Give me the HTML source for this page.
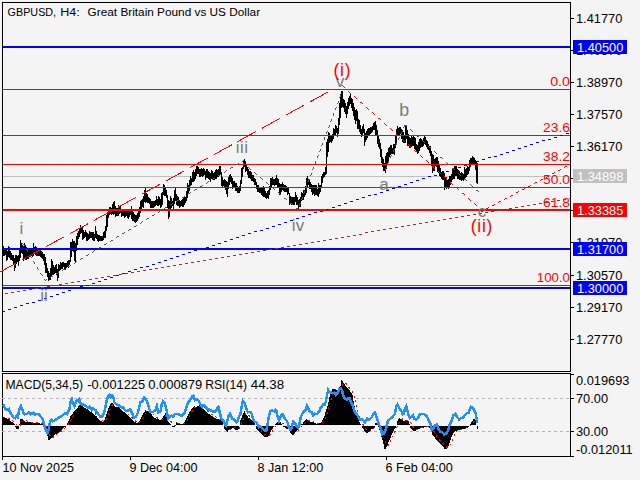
<!DOCTYPE html><html><head><meta charset="utf-8"><style>
html,body{margin:0;padding:0;background:#f4f4f4;width:640px;height:480px;overflow:hidden}
svg{position:absolute;left:0;top:0}
text{font-family:'Liberation Sans', sans-serif}
</style></head><body>
<svg width="640" height="480" viewBox="0 0 640 480">
<g shape-rendering="crispEdges" stroke="#000" stroke-width="1" fill="none">
<path d="M2.5 2.5H570.5V371.5H2.5Z"/>
<path d="M2.5 373.5H570.5V456.5H2.5Z"/>
<path d="M570 18.5H574"/>
<path d="M570 50.5H574"/>
<path d="M570 82.5H574"/>
<path d="M570 114.5H574"/>
<path d="M570 146.5H574"/>
<path d="M570 178.5H574"/>
<path d="M570 210.5H574"/>
<path d="M570 242.5H574"/>
<path d="M570 275.5H574"/>
<path d="M570 307.5H574"/>
<path d="M570 339.5H574"/>
<path d="M570 374.5H574"/>
<path d="M570 398.5H574"/>
<path d="M570 431.5H574"/>
<path d="M570 456.5H574"/>
<path d="M2.5 456V460"/>
<path d="M130.5 456V460"/>
<path d="M258.5 456V460"/>
<path d="M386.5 456V460"/>
</g>
<rect x="3" y="176" width="567" height="1" fill="#c0c0c0" shape-rendering="crispEdges"/>
<path fill="none" stroke="#000" stroke-width="1" shape-rendering="crispEdges" d="M3.5 246V256M4.5 249V256M5.5 250V255M6.5 250V261M7.5 251V260M8.5 246V257M9.5 247V258M10.5 251V260M11.5 253V260M12.5 255V261M13.5 255V264M14.5 258V271M15.5 255V268M16.5 255V264M17.5 256V262M18.5 255V266M19.5 249V261M20.5 240V258M21.5 243V253M22.5 245V254M23.5 246V261M24.5 243V258M25.5 245V260M26.5 247V260M27.5 251V259M28.5 249V259M29.5 250V257M30.5 250V256M31.5 248V256M32.5 250V257M33.5 243V256M34.5 247V254M35.5 246V255M36.5 247V256M37.5 249V256M38.5 249V256M39.5 249V256M40.5 250V257M41.5 251V258M42.5 252V259M43.5 254V261M44.5 254V265M45.5 257V273M46.5 263V273M47.5 268V277M48.5 271V281M49.5 273V280M50.5 268V280M51.5 259V276M52.5 261V275M53.5 265V275M54.5 267V274M55.5 265V273M56.5 264V275M57.5 269V281M58.5 264V278M59.5 265V271M60.5 262V270M61.5 263V269M62.5 262V269M63.5 262V267M64.5 263V270M65.5 263V270M66.5 263V268M67.5 261V267M68.5 260V268M69.5 260V265M70.5 242V262M71.5 242V257M72.5 239V251M73.5 241V252M74.5 241V261M75.5 243V262M76.5 236V251M77.5 233V245M78.5 231V239M79.5 229V237M80.5 225V234M81.5 227V233M82.5 227V240M83.5 230V239M84.5 232V238M85.5 230V237M86.5 232V241M87.5 233V241M88.5 234V240M89.5 231V239M90.5 232V238M91.5 232V238M92.5 232V240M93.5 232V241M94.5 234V241M95.5 226V238M96.5 231V239M97.5 234V241M98.5 235V242M99.5 235V241M100.5 236V241M101.5 236V241M102.5 236V241M103.5 232V240M104.5 231V238M105.5 226V238M106.5 215V231M107.5 213V227M108.5 209V218M109.5 207V215M110.5 207V214M111.5 208V215M112.5 204V214M113.5 202V215M114.5 201V214M115.5 206V217M116.5 208V216M117.5 208V216M118.5 205V216M119.5 206V214M120.5 206V213M121.5 209V217M122.5 209V216M123.5 211V216M124.5 209V218M125.5 211V217M126.5 211V216M127.5 210V218M128.5 210V219M129.5 210V217M130.5 210V215M131.5 206V219M132.5 209V221M133.5 212V221M134.5 214V222M135.5 215V223M136.5 215V222M137.5 213V221M138.5 209V219M139.5 207V217M140.5 201V213M141.5 200V210M142.5 199V207M143.5 196V208M144.5 190V202M145.5 188V203M146.5 193V202M147.5 194V203M148.5 197V203M149.5 198V204M150.5 199V208M151.5 201V208M152.5 201V208M153.5 201V208M154.5 201V207M155.5 200V206M156.5 196V205M157.5 199V206M158.5 196V206M159.5 197V205M160.5 199V208M161.5 193V207M162.5 192V205M163.5 184V195M164.5 185V196M165.5 188V196M166.5 190V198M167.5 195V208M168.5 200V219M169.5 201V217M170.5 196V211M171.5 198V208M172.5 201V206M173.5 198V209M174.5 190V204M175.5 187V201M176.5 194V205M177.5 196V206M178.5 197V206M179.5 200V208M180.5 201V207M181.5 200V206M182.5 199V207M183.5 198V207M184.5 197V205M185.5 197V203M186.5 191V201M187.5 183V198M188.5 185V193M189.5 180V191M190.5 176V186M191.5 178V185M192.5 172V182M193.5 170V182M194.5 172V181M195.5 169V179M196.5 166V176M197.5 166V174M198.5 167V174M199.5 169V177M200.5 169V177M201.5 168V176M202.5 169V177M203.5 168V176M204.5 169V175M205.5 171V180M206.5 169V178M207.5 169V178M208.5 171V179M209.5 172V180M210.5 173V182M211.5 170V179M212.5 171V180M213.5 173V180M214.5 172V180M215.5 170V179M216.5 169V179M217.5 170V177M218.5 169V177M219.5 166V175M220.5 166V175M221.5 172V186M222.5 177V187M223.5 180V186M224.5 179V187M225.5 180V190M226.5 181V194M227.5 182V197M228.5 177V189M229.5 175V185M230.5 174V182M231.5 176V184M232.5 178V189M233.5 181V187M234.5 181V188M235.5 183V191M236.5 183V191M237.5 186V193M238.5 187V193M239.5 186V193M240.5 180V191M241.5 168V184M242.5 167V177M243.5 160V169M244.5 159V167M245.5 161V172M246.5 164V171M247.5 167V175M248.5 169V178M249.5 171V178M250.5 171V179M251.5 172V181M252.5 175V181M253.5 175V182M254.5 178V185M255.5 179V185M256.5 182V189M257.5 185V192M258.5 185V192M259.5 187V193M260.5 187V193M261.5 187V195M262.5 187V196M263.5 186V197M264.5 187V197M265.5 191V198M266.5 193V199M267.5 191V198M268.5 190V199M269.5 186V195M270.5 178V190M271.5 178V188M272.5 177V185M273.5 179V185M274.5 179V186M275.5 178V185M276.5 175V185M277.5 178V187M278.5 179V187M279.5 183V195M280.5 184V194M281.5 184V192M282.5 182V190M283.5 184V191M284.5 185V192M285.5 185V192M286.5 186V192M287.5 188V195M288.5 188V194M289.5 193V205M290.5 196V204M291.5 197V205M292.5 197V204M293.5 197V205M294.5 197V205M295.5 192V202M296.5 195V205M297.5 197V205M298.5 200V211M299.5 199V207M300.5 197V207M301.5 192V201M302.5 193V200M303.5 190V200M304.5 190V197M305.5 186V195M306.5 178V193M307.5 176V187M308.5 179V185M309.5 179V189M310.5 182V189M311.5 184V192M312.5 185V195M313.5 185V194M314.5 185V196M315.5 185V195M316.5 185V195M317.5 189V196M318.5 183V197M319.5 185V194M320.5 185V192M321.5 176V188M322.5 174V183M323.5 172V178M324.5 172V177M325.5 167V175M326.5 142V174M327.5 139V157M328.5 132V152M329.5 133V143M330.5 135V142M331.5 135V143M332.5 134V141M333.5 128V139M334.5 129V136M335.5 125V136M336.5 126V133M337.5 128V137M338.5 118V134M339.5 103V125M340.5 94V118M341.5 91V108M342.5 91V107M343.5 99V108M344.5 100V112M345.5 103V114M346.5 106V118M347.5 102V114M348.5 98V109M349.5 96V106M350.5 94V104M351.5 98V108M352.5 99V111M353.5 103V116M354.5 107V120M355.5 110V124M356.5 109V121M357.5 111V129M358.5 119V129M359.5 120V132M360.5 125V134M361.5 129V137M362.5 126V135M363.5 124V133M364.5 129V146M365.5 133V142M366.5 131V140M367.5 129V138M368.5 128V136M369.5 128V136M370.5 127V134M371.5 127V133M372.5 126V132M373.5 123V130M374.5 122V130M375.5 121V135M376.5 125V136M377.5 130V144M378.5 135V147M379.5 139V149M380.5 143V157M381.5 149V163M382.5 157V167M383.5 159V171M384.5 163V171M385.5 156V173M386.5 153V169M387.5 152V163M388.5 148V161M389.5 147V157M390.5 145V155M391.5 145V154M392.5 148V154M393.5 144V154M394.5 144V155M395.5 135V148M396.5 129V144M397.5 126V136M398.5 128V136M399.5 127V135M400.5 127V134M401.5 129V139M402.5 130V142M403.5 132V143M404.5 135V143M405.5 125V143M406.5 126V139M407.5 130V146M408.5 134V146M409.5 137V148M410.5 138V148M411.5 136V147M412.5 137V146M413.5 135V146M414.5 137V149M415.5 138V150M416.5 144V152M417.5 145V154M418.5 142V153M419.5 139V151M420.5 138V148M421.5 139V147M422.5 140V147M423.5 138V146M424.5 136V144M425.5 137V145M426.5 140V147M427.5 141V149M428.5 144V150M429.5 146V153M430.5 146V156M431.5 151V166M432.5 154V173M433.5 155V171M434.5 159V171M435.5 158V166M436.5 157V167M437.5 157V172M438.5 161V173M439.5 164V176M440.5 168V177M441.5 172V179M442.5 171V180M443.5 171V180M444.5 173V190M445.5 177V188M446.5 177V189M447.5 180V188M448.5 179V189M449.5 176V188M450.5 176V185M451.5 174V182M452.5 169V180M453.5 170V179M454.5 166V179M455.5 166V176M456.5 166V176M457.5 169V179M458.5 170V179M459.5 171V180M460.5 173V180M461.5 172V181M462.5 173V180M463.5 174V181M464.5 167V179M465.5 169V178M466.5 168V177M467.5 166V175M468.5 167V174M469.5 160V171M470.5 158V167M471.5 158V165M472.5 156V163M473.5 157V164M474.5 158V164M475.5 160V170M476.5 161V183M477.5 163V184"/>
<g shape-rendering="crispEdges">
<rect x="3" y="89" width="567" height="1" fill="#ff0000"/>
<rect x="3" y="135" width="567" height="1" fill="#ff0000"/>
<rect x="3" y="164" width="567" height="1" fill="#ff0000"/>
<rect x="3" y="187" width="567" height="1" fill="#ff0000"/>
<rect x="3" y="210" width="567" height="1" fill="#ff0000"/>
<rect x="3" y="285" width="567" height="1" fill="#ff0000"/>
<rect x="3" y="209" width="567" height="2" fill="#ff0000"/>
<rect x="3" y="46" width="567" height="2" fill="#0000ff"/>
<rect x="3" y="248" width="567" height="2" fill="#0000ff"/>
<rect x="3" y="287" width="567" height="2" fill="#0000ff"/>
</g>
<g fill="none" stroke-width="1" shape-rendering="crispEdges">
<path fill="none" stroke="#0000ff" stroke-width="1" shape-rendering="crispEdges" d="M566 133.5h3M560 135.5h3M554 137.5h3M548 139.5h3M542 140.5h3M536 142.5h3M530 144.5h3M524 146.5h3M518 148.5h3M512 150.5h3M506 152.5h3M500 154.5h3M494 156.5h3M488 157.5h3M482 159.5h3M476 161.5h3M470 163.5h3M464 165.5h3M458 167.5h3M452 169.5h3M446 171.5h3M440 173.5h3M434 175.5h3M428 176.5h3M422 178.5h3M416 180.5h3M410 182.5h3M404 184.5h3M398 186.5h3M392 188.5h3M386 190.5h3M380 192.5h3M374 194.5h3M368 195.5h3M362 197.5h3M356 199.5h3M350 201.5h3M344 203.5h3M338 205.5h3M332 207.5h3M326 209.5h3M320 211.5h3M314 212.5h3M308 214.5h3M302 216.5h3M296 218.5h3M290 220.5h3M284 222.5h3M278 224.5h3M272 226.5h3M266 228.5h3M260 230.5h3M254 231.5h3M248 233.5h3M242 235.5h3M236 237.5h3M230 239.5h3M224 241.5h3M218 243.5h3M212 245.5h3M206 247.5h3M200 249.5h3M194 250.5h3M188 252.5h3M182 254.5h3M176 256.5h3M170 258.5h3M164 260.5h3M158 262.5h3M152 264.5h3M146 266.5h3M140 267.5h3M134 269.5h3M128 271.5h3M122 273.5h3M116 275.5h3M110 277.5h3M104 279.5h3M98 281.5h3M92 283.5h3M86 285.5h3M80 286.5h3M74 288.5h3M68 290.5h3M62 292.5h3M56 294.5h3M50 296.5h3M44 298.5h3M38 300.5h3M32 302.5h3M26 303.5h3M20 305.5h3M14 307.5h3M8 309.5h3M3 311.5h2"/>
<path fill="none" stroke="#a52a2a" stroke-width="1" shape-rendering="crispEdges" d="M569 198.5h1M563 199.5h3M557 200.5h3M551 201.5h3M545 202.5h3M539 203.5h3M533 204.5h3M527 205.5h3M521 206.5h3M515 207.5h3M509 208.5h3M503 209.5h3M497 210.5h3M491 211.5h3M485 212.5h3M479 213.5h3M473 214.5h3M467 215.5h3M461 216.5h3M455 217.5h3M449 218.5h3M443 219.5h3M437 220.5h3M431 221.5h3M425 222.5h3M419 223.5h3M413 224.5h3M407 225.5h3M401 226.5h3M395 227.5h3M389 228.5h3M383 229.5h3M377 230.5h3M371 231.5h3M365 232.5h3M359 234.5h3M353 235.5h3M347 236.5h3M341 237.5h3M335 238.5h3M329 239.5h3M323 240.5h3M317 241.5h3M311 242.5h3M305 243.5h3M299 244.5h3M293 245.5h3M287 246.5h3M281 247.5h3M275 248.5h3M269 249.5h3M263 250.5h3M257 251.5h3M251 252.5h3M245 253.5h3M239 254.5h3M233 255.5h3M227 256.5h3M221 257.5h3M215 258.5h3M209 259.5h3M203 260.5h3M197 261.5h3M191 262.5h3M185 263.5h3M179 264.5h3M173 265.5h3M167 266.5h3M161 267.5h3M155 268.5h3M149 269.5h3M143 270.5h3M137 271.5h3M131 272.5h3M125 273.5h3M119 274.5h3M113 275.5h3M107 276.5h3M101 277.5h3M95 278.5h3M89 279.5h3M83 280.5h3M77 281.5h3M71 282.5h3M65 283.5h3M59 284.5h3M53 285.5h3M47 286.5h3M41 287.5h3M35 288.5h3M29 289.5h3M23 290.5h3M17 291.5h3M11 292.5h3M5 293.5h3"/>
<path d="M-2 273.1L328 92" stroke="#ff0000" stroke-dasharray="20.53 6.84"/>
<path fill="none" stroke="#ff0000" stroke-width="1" shape-rendering="crispEdges" d="M342 85.5h1M343 86.5h1M344 87.5h1M348 91.5h1M349 92.5h1M350 93.5h1M354 96.5h1M355 97.5h1M356 98.5h1M360 102.5h2M362 103.5h1M366 107.5h1M367 108.5h1M368 109.5h1M372 112.5h1M373 113.5h1M374 114.5h1M378 118.5h2M380 119.5h1M384 123.5h1M385 124.5h1M386 125.5h1M390 128.5h1M391 129.5h1M392 130.5h1M396 134.5h1M397 135.5h2M402 139.5h1M403 140.5h1M404 141.5h1M408 144.5h1M409 145.5h1M410 146.5h1M414 150.5h1M415 151.5h2M420 155.5h1M421 156.5h1M422 157.5h1M426 160.5h1M427 161.5h1M428 162.5h1M432 166.5h1M433 167.5h1M434 168.5h1M438 171.5h1M439 172.5h1M440 173.5h1M444 176.5h1M445 177.5h1M446 178.5h1M450 182.5h1M451 183.5h1M452 184.5h1M456 187.5h1M457 188.5h1M458 189.5h1M462 193.5h2M464 194.5h1M468 198.5h1M469 199.5h1M470 200.5h1M474 203.5h1M475 204.5h1M476 205.5h1"/>
<path fill="none" stroke="#ff0000" stroke-width="1" shape-rendering="crispEdges" d="M565 166.5h2M564 167.5h1M560 169.5h1M558 170.5h2M554 172.5h1M552 173.5h2M547 176.5h2M546 177.5h1M541 179.5h2M540 180.5h1M535 182.5h2M534 183.5h1M530 185.5h1M528 186.5h2M524 188.5h1M522 189.5h2M518 191.5h1M516 192.5h2M511 195.5h2M510 196.5h1M505 198.5h2M504 199.5h1M499 201.5h2M498 202.5h1M494 204.5h1M492 205.5h2M488 207.5h1M486 208.5h2M481 211.5h2"/>
<path fill="none" stroke="#555555" stroke-width="1" shape-rendering="crispEdges" d="M22 243.5h1M23 244.5h1M24 245.5h1M26 249.5h1M27 250.5h1M27 251.5h1M30 255.5h1M30 256.5h1M31 257.5h1M33 261.5h1M34 262.5h1M34 263.5h1M37 267.5h1M37 268.5h1M38 269.5h1M40 273.5h1M41 274.5h1M42 275.5h1M44 279.5h1M45 280.5h1"/>
<path fill="none" stroke="#555555" stroke-width="1" shape-rendering="crispEdges" d="M243 160.5h1M242 161.5h1M238 163.5h1M236 164.5h2M231 167.5h2M230 168.5h1M226 170.5h1M225 171.5h1M224 172.5h1M220 174.5h1M218 175.5h2M213 178.5h2M212 179.5h1M208 181.5h1M207 182.5h1M206 183.5h1M202 185.5h1M200 186.5h2M195 189.5h2M194 190.5h1M190 192.5h1M188 193.5h2M184 196.5h1M182 197.5h2M177 200.5h2M176 201.5h1M172 203.5h1M170 204.5h2M165 207.5h2M164 208.5h1M160 210.5h1M159 211.5h1M158 212.5h1M154 214.5h1M152 215.5h2M147 218.5h2M146 219.5h1M142 221.5h1M141 222.5h1M140 223.5h1M136 225.5h1M134 226.5h2M129 229.5h2M128 230.5h1M124 232.5h1M122 233.5h2M117 236.5h2M116 237.5h1M111 240.5h2M110 241.5h1M106 243.5h1M104 244.5h2M99 247.5h2M98 248.5h1M94 250.5h1M93 251.5h1M92 252.5h1M88 254.5h1M86 255.5h2M81 258.5h2M80 259.5h1M76 261.5h1M75 262.5h1M74 263.5h1M70 265.5h1M68 266.5h2M63 269.5h2M62 270.5h1M58 272.5h1M56 273.5h2M51 276.5h2M50 277.5h1M46 279.5h1M45 280.5h1"/>
<path fill="none" stroke="#555555" stroke-width="1" shape-rendering="crispEdges" d="M243 163.5h1M244 164.5h1M248 167.5h1M249 168.5h1M250 169.5h1M254 172.5h1M255 173.5h1M256 174.5h1M260 177.5h1M261 178.5h1M262 179.5h1M266 182.5h1M267 183.5h1M268 184.5h1M272 187.5h1M273 188.5h1M274 189.5h1M278 192.5h1M279 193.5h1M280 194.5h1M284 198.5h2M286 199.5h1M290 203.5h2M292 204.5h1M296 208.5h2M298 209.5h1"/>
<path fill="none" stroke="#555555" stroke-width="1" shape-rendering="crispEdges" d="M340 95.5h1M340 96.5h1M339 97.5h1M338 101.5h1M338 102.5h1M337 103.5h1M336 107.5h1M335 108.5h1M335 109.5h1M333 113.5h1M333 114.5h1M333 115.5h1M331 119.5h1M331 120.5h1M330 121.5h1M329 125.5h1M329 126.5h1M328 127.5h1M327 131.5h1M326 132.5h1M326 133.5h1M324 137.5h1M324 138.5h1M324 139.5h1M322 143.5h1M322 144.5h1M321 145.5h1M320 149.5h1M320 150.5h1M319 151.5h1M318 155.5h1M317 156.5h1M317 157.5h1M315 161.5h1M315 162.5h1M315 163.5h1M313 167.5h1M313 168.5h1M312 169.5h1M311 173.5h1M311 174.5h1M310 175.5h1M309 179.5h1M308 180.5h1M308 181.5h1M306 185.5h1M306 186.5h1M306 187.5h1M304 191.5h1M304 192.5h1M303 193.5h1M302 197.5h1M302 198.5h1M301 199.5h1M300 203.5h1M299 204.5h1M299 205.5h1M298 209.5h1"/>
<path fill="none" stroke="#555555" stroke-width="1" shape-rendering="crispEdges" d="M404 125.5h1M404 126.5h1M403 127.5h1M402 131.5h1M401 132.5h1M401 133.5h1M399 137.5h1M398 138.5h1M398 139.5h1M396 143.5h1M396 144.5h1M395 145.5h1M394 149.5h1M393 150.5h1M393 151.5h1M391 155.5h1M390 156.5h1M390 157.5h1M388 161.5h1M388 162.5h1M387 163.5h1M386 167.5h1M385 168.5h1M385 169.5h1"/>
<path fill="none" stroke="#555555" stroke-width="1" shape-rendering="crispEdges" d="M405 125.5h2M410 129.5h1M411 130.5h1M412 131.5h1M416 135.5h1M417 136.5h2M422 140.5h1M423 141.5h1M424 142.5h1M428 146.5h1M429 147.5h2M434 151.5h1M435 152.5h1M436 153.5h1M440 157.5h2M442 158.5h1M446 162.5h1M447 163.5h1M448 164.5h1M452 168.5h2M454 169.5h1M458 173.5h1M459 174.5h1M460 175.5h1M464 179.5h2M466 180.5h1M470 184.5h1M471 185.5h1M472 186.5h1M476 190.5h2M478 191.5h1"/>
</g>
<g stroke="#b4b4b4" stroke-dasharray="3 3" shape-rendering="crispEdges"><path d="M2 398.5H570M2 431.5H570"/></g><path fill="none" stroke="#000" stroke-width="1" shape-rendering="crispEdges" d="M3.5 417V425M4.5 417V425M5.5 418V425M6.5 418V425M7.5 419V425M8.5 419V425M9.5 420V425M10.5 421V425M11.5 422V425M12.5 422V425M13.5 423V425M14.5 424V425M15.5 426V427M16.5 426V429M17.5 426V429M18.5 426V429M19.5 424V425M20.5 419V425M21.5 419V425M22.5 419V425M23.5 420V425M24.5 421V425M25.5 422V425M26.5 422V425M27.5 422V425M28.5 422V425M29.5 422V425M30.5 422V425M31.5 423V425M32.5 423V425M33.5 423V425M34.5 423V425M35.5 423V425M36.5 423V425M37.5 423V425M38.5 423V425M39.5 423V425M40.5 424V425M41.5 424V425M42.5 424V425M44.5 426V427M45.5 426V430M46.5 426V432M47.5 426V436M48.5 426V440M49.5 426V440M50.5 426V439M51.5 426V438M52.5 426V437M53.5 426V436M54.5 426V435M55.5 426V434M56.5 426V434M57.5 426V433M58.5 426V433M59.5 426V432M60.5 426V431M61.5 426V430M62.5 426V429M63.5 426V428M64.5 426V427M65.5 426V427M67.5 423V425M68.5 421V425M69.5 419V425M70.5 416V425M71.5 415V425M72.5 414V425M73.5 412V425M74.5 411V425M75.5 410V425M76.5 409V425M77.5 408V425M78.5 406V425M79.5 405V425M80.5 404V425M81.5 405V425M82.5 406V425M83.5 407V425M84.5 408V425M85.5 408V425M86.5 409V425M87.5 409V425M88.5 410V425M89.5 411V425M90.5 412V425M91.5 412V425M92.5 413V425M93.5 414V425M94.5 415V425M95.5 416V425M96.5 416V425M97.5 418V425M98.5 419V425M99.5 420V425M100.5 421V425M101.5 421V425M102.5 422V425M103.5 422V425M104.5 420V425M105.5 417V425M106.5 414V425M107.5 411V425M108.5 408V425M109.5 406V425M110.5 404V425M111.5 403V425M112.5 403V425M113.5 404V425M114.5 406V425M115.5 407V425M116.5 407V425M117.5 407V425M118.5 407V425M119.5 408V425M120.5 409V425M121.5 410V425M122.5 411V425M123.5 412V425M124.5 412V425M125.5 413V425M126.5 414V425M127.5 415V425M128.5 416V425M129.5 417V425M130.5 418V425M131.5 419V425M132.5 420V425M133.5 421V425M134.5 422V425M135.5 422V425M136.5 423V425M137.5 423V425M138.5 422V425M139.5 421V425M140.5 419V425M141.5 417V425M142.5 415V425M143.5 413V425M144.5 412V425M145.5 410V425M146.5 411V425M147.5 411V425M148.5 412V425M149.5 412V425M150.5 413V425M151.5 414V425M152.5 416V425M153.5 417V425M154.5 418V425M155.5 418V425M156.5 419V425M157.5 419V425M158.5 419V425M159.5 420V425M160.5 420V425M161.5 419V425M162.5 418V425M163.5 416V425M164.5 415V425M165.5 413V425M166.5 415V425M167.5 419V425M168.5 422V425M169.5 423V425M170.5 424V425M172.5 426V427M173.5 426V427M174.5 426V427M176.5 422V425M177.5 423V425M178.5 423V425M179.5 423V425M180.5 424V425M181.5 424V425M182.5 424V425M183.5 423V425M184.5 422V425M185.5 420V425M186.5 418V425M187.5 416V425M188.5 414V425M189.5 412V425M190.5 411V425M191.5 409V425M192.5 408V425M193.5 407V425M194.5 406V425M195.5 407V425M196.5 407V425M197.5 406V425M198.5 406V425M199.5 405V425M200.5 406V425M201.5 407V425M202.5 408V425M203.5 409V425M204.5 410V425M205.5 411V425M206.5 412V425M207.5 413V425M208.5 414V425M209.5 414V425M210.5 415V425M211.5 416V425M212.5 416V425M213.5 417V425M214.5 418V425M215.5 418V425M216.5 419V425M217.5 419V425M218.5 419V425M219.5 420V425M220.5 420V425M221.5 421V425M222.5 422V425M224.5 426V429M225.5 426V430M226.5 426V431M227.5 426V432M228.5 426V430M229.5 426V430M230.5 426V429M231.5 426V429M232.5 426V428M233.5 426V428M234.5 426V429M235.5 426V430M236.5 426V430M237.5 426V430M238.5 426V429M240.5 420V425M241.5 418V425M242.5 415V425M243.5 413V425M244.5 411V425M245.5 413V425M246.5 415V425M247.5 416V425M248.5 418V425M249.5 418V425M250.5 419V425M251.5 420V425M252.5 421V425M253.5 422V425M254.5 423V425M256.5 426V429M257.5 426V430M258.5 426V431M259.5 426V432M260.5 426V433M261.5 426V434M262.5 426V435M263.5 426V436M264.5 426V437M265.5 426V437M266.5 426V437M267.5 426V437M268.5 426V436M269.5 426V434M270.5 426V432M271.5 426V430M272.5 426V429M273.5 426V427M275.5 424V425M276.5 423V425M277.5 422V425M278.5 422V425M279.5 422V425M280.5 422V425M281.5 424V425M283.5 426V427M284.5 426V427M285.5 426V428M286.5 426V429M287.5 426V429M288.5 426V429M289.5 426V431M290.5 426V433M291.5 426V434M292.5 426V435M293.5 426V435M294.5 426V434M295.5 426V432M296.5 426V431M297.5 426V430M298.5 426V429M299.5 426V427M301.5 424V425M302.5 424V425M303.5 422V425M304.5 421V425M305.5 420V425M306.5 419V425M307.5 420V425M308.5 420V425M309.5 421V425M310.5 422V425M311.5 422V425M312.5 422V425M313.5 422V425M314.5 423V425M315.5 423V425M316.5 424V425M317.5 424V425M318.5 424V425M319.5 423V425M320.5 423V425M321.5 422V425M322.5 420V425M323.5 418V425M324.5 416V425M325.5 412V425M326.5 409V425M327.5 406V425M328.5 402V425M329.5 397V425M330.5 393V425M331.5 391V425M332.5 389V425M333.5 389V425M334.5 389V425M335.5 390V425M336.5 390V425M337.5 390V425M338.5 389V425M339.5 387V425M340.5 386V425M341.5 380V425M342.5 381V425M343.5 383V425M344.5 384V425M345.5 386V425M346.5 387V425M347.5 388V425M348.5 389V425M349.5 390V425M350.5 392V425M351.5 393V425M352.5 395V425M353.5 401V425M354.5 406V425M355.5 412V425M356.5 415V425M357.5 418V425M358.5 420V425M359.5 422V425M360.5 424V425M362.5 426V428M363.5 426V429M364.5 426V431M365.5 426V432M366.5 426V433M367.5 426V433M368.5 426V432M369.5 426V431M370.5 426V430M371.5 426V429M372.5 426V429M373.5 426V428M374.5 426V427M375.5 423V425M376.5 423V425M377.5 424V425M378.5 426V427M379.5 426V430M380.5 426V433M381.5 426V437M382.5 426V440M383.5 426V444M384.5 426V449M385.5 426V449M386.5 426V447M387.5 426V445M388.5 426V442M389.5 426V440M390.5 426V438M391.5 426V435M392.5 426V433M393.5 426V431M394.5 426V429M395.5 426V428M397.5 421V425M398.5 419V425M399.5 418V425M400.5 419V425M401.5 420V425M402.5 420V425M403.5 421V425M404.5 421V425M405.5 420V425M406.5 420V425M407.5 420V425M408.5 421V425M409.5 424V425M410.5 426V428M411.5 426V429M412.5 426V430M413.5 426V431M414.5 426V431M415.5 426V431M416.5 426V430M417.5 426V429M418.5 426V429M419.5 426V429M420.5 426V428M421.5 426V428M422.5 426V428M423.5 426V428M424.5 426V427M425.5 426V427M426.5 426V427M427.5 426V427M428.5 426V427M429.5 426V428M430.5 426V428M431.5 426V431M432.5 426V435M433.5 426V436M434.5 426V437M435.5 426V439M436.5 426V440M437.5 426V441M438.5 426V442M439.5 426V443M440.5 426V444M441.5 426V445M442.5 426V446M443.5 426V447M444.5 426V449M445.5 426V449M446.5 426V449M447.5 426V448M448.5 426V446M449.5 426V443M450.5 426V440M451.5 426V437M452.5 426V435M453.5 426V433M454.5 426V432M455.5 426V431M456.5 426V431M457.5 426V430M458.5 426V430M459.5 426V430M460.5 426V430M461.5 426V430M462.5 426V429M463.5 426V429M464.5 426V429M465.5 426V429M466.5 426V428M467.5 426V428M468.5 426V427M470.5 424V425M471.5 422V425M472.5 421V425M473.5 419V425M474.5 419V425M475.5 420V425M477.5 426V429"/><polyline fill="none" stroke="#ff0000" stroke-width="1" stroke-dasharray="2 3" shape-rendering="crispEdges" points="3.5,416.9 4.5,417.4 5.5,418.0 6.5,418.5 7.5,418.0 8.5,418.5 9.5,419.0 10.5,419.5 11.5,420.1 12.5,420.8 13.5,421.6 14.5,422.3 15.5,423.4 16.5,424.6 17.5,425.6 18.5,426.4 19.5,426.4 20.5,425.0 21.5,423.2 22.5,421.6 23.5,420.1 24.5,419.6 25.5,420.2 26.5,420.8 27.5,421.4 28.5,421.9 29.5,422.1 30.5,422.3 31.5,422.4 32.5,422.5 33.5,422.5 34.5,422.6 35.5,422.7 36.5,422.7 37.5,422.8 38.5,422.9 39.5,423.1 40.5,423.2 41.5,423.3 42.5,423.5 43.5,423.8 44.5,424.4 45.5,425.4 46.5,426.9 47.5,429.2 48.5,431.9 49.5,434.6 50.5,436.5 51.5,437.6 52.5,437.8 53.5,437.0 54.5,435.9 55.5,434.9 56.5,434.1 57.5,433.5 58.5,432.9 59.5,432.4 60.5,431.8 61.5,431.1 62.5,430.2 63.5,429.3 64.5,428.3 65.5,427.4 66.5,426.5 67.5,425.5 68.5,424.2 69.5,422.8 70.5,420.9 71.5,418.9 72.5,417.0 73.5,415.2 74.5,413.8 75.5,412.5 76.5,411.2 77.5,410.0 78.5,408.8 79.5,407.6 80.5,406.4 81.5,405.7 82.5,405.3 83.5,405.4 84.5,405.8 85.5,406.6 86.5,407.3 87.5,408.1 88.5,408.8 89.5,409.4 90.5,410.2 91.5,410.9 92.5,411.7 93.5,412.5 94.5,413.3 95.5,414.1 96.5,414.8 97.5,415.7 98.5,416.6 99.5,417.6 100.5,418.6 101.5,419.6 102.5,420.4 103.5,421.2 104.5,421.2 105.5,420.5 106.5,419.0 107.5,416.8 108.5,413.8 109.5,410.9 110.5,408.2 111.5,406.2 112.5,404.7 113.5,403.9 114.5,404.1 115.5,404.6 116.5,405.3 117.5,406.1 118.5,406.7 119.5,407.0 120.5,407.5 121.5,408.0 122.5,408.8 123.5,409.7 124.5,410.6 125.5,411.6 126.5,412.5 127.5,413.4 128.5,414.4 129.5,415.3 130.5,416.2 131.5,417.2 132.5,418.1 133.5,419.1 134.5,420.0 135.5,420.9 136.5,421.7 137.5,422.3 138.5,422.6 139.5,422.4 140.5,421.6 141.5,420.4 142.5,418.8 143.5,416.9 144.5,415.2 145.5,413.4 146.5,412.2 147.5,411.4 148.5,411.1 149.5,411.2 150.5,411.9 151.5,412.6 152.5,413.5 153.5,414.4 154.5,415.4 155.5,416.4 156.5,417.3 157.5,418.0 158.5,418.6 159.5,419.0 160.5,419.4 161.5,419.4 162.5,419.1 163.5,418.4 164.5,417.5 165.5,416.1 166.5,415.4 167.5,415.6 168.5,416.9 169.5,418.5 170.5,420.6 171.5,422.6 172.5,424.1 173.5,424.7 174.5,425.2 175.5,425.5 176.5,425.0 177.5,424.3 178.5,423.8 179.5,423.4 180.5,423.1 181.5,423.4 182.5,423.8 183.5,423.8 184.5,423.6 185.5,422.9 186.5,421.6 187.5,419.8 188.5,417.9 189.5,415.8 190.5,413.9 191.5,412.2 192.5,410.6 193.5,409.2 194.5,408.1 195.5,407.2 196.5,406.8 197.5,406.6 198.5,406.3 199.5,406.1 200.5,405.9 201.5,405.8 202.5,406.1 203.5,406.7 204.5,407.7 205.5,408.8 206.5,409.8 207.5,410.9 208.5,411.9 209.5,412.8 210.5,413.6 211.5,414.3 212.5,415.0 213.5,415.6 214.5,416.2 215.5,416.9 216.5,417.5 217.5,418.1 218.5,418.6 219.5,419.0 220.5,419.4 221.5,419.8 222.5,420.4 223.5,421.6 224.5,423.1 225.5,424.9 226.5,426.8 227.5,428.4 228.5,429.2 229.5,429.5 230.5,429.4 231.5,428.9 232.5,428.1 233.5,427.7 234.5,427.6 235.5,427.7 236.5,428.1 237.5,428.5 238.5,428.6 239.5,428.0 240.5,426.2 241.5,423.8 242.5,421.1 243.5,418.1 244.5,415.4 245.5,414.0 246.5,413.5 247.5,413.8 248.5,414.6 249.5,416.1 250.5,417.3 251.5,418.4 252.5,419.4 253.5,420.3 254.5,421.2 255.5,422.4 256.5,423.8 257.5,425.3 258.5,426.9 259.5,428.5 260.5,430.0 261.5,431.2 262.5,432.3 263.5,433.3 264.5,434.2 265.5,434.9 266.5,435.4 267.5,435.7 268.5,435.7 269.5,435.2 270.5,434.2 271.5,432.9 272.5,431.2 273.5,429.5 274.5,427.9 275.5,426.4 276.5,425.2 277.5,424.2 278.5,423.3 279.5,422.8 280.5,422.4 281.5,422.6 282.5,423.1 283.5,423.8 284.5,424.6 285.5,425.5 286.5,426.2 287.5,426.8 288.5,427.3 289.5,428.1 290.5,429.2 291.5,430.4 292.5,431.8 293.5,432.9 294.5,433.4 295.5,433.2 296.5,432.5 297.5,431.4 298.5,430.3 299.5,429.0 300.5,427.7 301.5,426.6 302.5,425.5 303.5,424.4 304.5,423.3 305.5,422.3 306.5,421.3 307.5,420.6 308.5,420.2 309.5,420.2 310.5,420.5 311.5,421.0 312.5,421.4 313.5,421.8 314.5,422.1 315.5,422.4 316.5,422.8 317.5,423.2 318.5,423.4 319.5,423.5 320.5,423.4 321.5,423.1 322.5,422.4 323.5,421.3 324.5,419.8 325.5,417.6 326.5,415.1 327.5,412.1 328.5,408.9 329.5,405.3 330.5,401.4 331.5,397.8 332.5,394.5 333.5,392.0 334.5,390.4 335.5,389.7 336.5,389.4 337.5,389.5 338.5,389.5 339.5,389.1 340.5,388.3 341.5,386.4 342.5,384.7 343.5,383.4 344.5,382.8 345.5,382.8 346.5,384.1 347.5,385.4 348.5,386.8 349.5,388.0 350.5,389.3 351.5,390.6 352.5,392.0 353.5,394.3 354.5,397.5 355.5,401.5 356.5,405.9 357.5,410.4 358.5,414.2 359.5,417.4 360.5,419.8 361.5,421.8 362.5,423.6 363.5,425.4 364.5,426.9 365.5,428.4 366.5,429.9 367.5,430.8 368.5,431.3 369.5,431.2 370.5,430.8 371.5,430.0 372.5,429.2 373.5,428.5 374.5,427.8 375.5,426.6 376.5,425.5 377.5,424.8 378.5,424.6 379.5,425.2 380.5,427.1 381.5,429.6 382.5,432.7 383.5,436.1 384.5,439.7 385.5,442.8 386.5,444.8 387.5,445.6 388.5,445.3 389.5,443.6 390.5,441.3 391.5,439.0 392.5,436.8 393.5,434.6 394.5,432.5 395.5,430.5 396.5,428.6 397.5,426.2 398.5,424.0 399.5,421.8 400.5,420.2 401.5,419.1 402.5,419.0 403.5,419.4 404.5,420.0 405.5,420.4 406.5,420.4 407.5,420.4 408.5,420.5 409.5,421.1 410.5,422.4 411.5,424.1 412.5,425.8 413.5,427.4 414.5,428.7 415.5,429.2 416.5,429.4 417.5,429.3 418.5,429.0 419.5,428.5 420.5,428.0 421.5,427.6 422.5,427.2 423.5,426.9 424.5,426.8 425.5,426.7 426.5,426.6 427.5,426.5 428.5,426.5 429.5,426.6 430.5,426.7 431.5,427.4 432.5,428.9 433.5,430.6 434.5,432.5 435.5,434.6 436.5,436.2 437.5,437.5 438.5,438.8 439.5,439.9 440.5,441.1 441.5,442.1 442.5,443.1 443.5,444.1 444.5,445.2 445.5,446.2 446.5,447.0 447.5,447.4 448.5,447.1 449.5,446.1 450.5,444.3 451.5,441.9 452.5,439.4 453.5,437.0 454.5,434.8 455.5,432.9 456.5,431.6 457.5,430.6 458.5,429.9 459.5,429.6 460.5,429.4 461.5,429.2 462.5,429.0 463.5,428.8 464.5,428.4 465.5,428.1 466.5,427.8 467.5,427.5 468.5,427.1 469.5,426.5 470.5,425.8 471.5,424.8 472.5,423.6 473.5,422.1 474.5,421.0 475.5,420.2 476.5,420.8 477.5,422.1"/><polyline fill="none" stroke="#1e90ff" stroke-width="2.5" shape-rendering="crispEdges" points="3.2,404.5 4.5,407.5 6.4,410.0 7.6,409.5 8.9,408.8 10.1,412.5 11.4,414.4 12.6,416.2 13.9,418.0 15.1,418.2 16.4,416.0 17.6,417.5 19.5,408.8 20.8,406.0 22.0,408.8 23.2,412.5 24.5,414.4 27.0,413.8 28.9,412.5 30.8,414.4 33.2,412.8 35.1,414.4 37.0,413.8 38.9,414.4 40.8,416.6 42.6,418.8 44.5,425.6 46.4,431.2 47.6,433.0 48.9,428.8 50.1,421.0 51.4,419.7 52.6,421.2 54.5,420.6 56.4,419.4 58.2,418.1 60.1,416.9 61.9,416.2 63.8,414.4 65.0,413.1 66.9,414.1 68.1,411.9 69.4,409.4 70.6,401.9 71.9,399.4 73.1,403.8 74.4,406.2 75.6,402.5 76.9,400.6 78.1,401.2 79.4,399.4 80.6,403.1 81.9,404.4 83.1,404.4 84.4,405.6 85.6,405.6 86.9,407.2 88.1,407.8 89.4,406.9 90.6,408.1 91.9,409.4 93.1,408.4 94.4,409.4 95.6,410.0 96.9,412.5 98.1,413.8 99.4,415.6 100.6,416.9 101.9,416.6 103.1,415.0 104.4,411.9 105.6,406.2 106.9,399.4 108.1,396.2 109.4,395.0 110.6,396.9 111.9,395.6 113.1,396.0 114.4,402.5 115.6,403.8 116.9,404.4 118.0,405.0 119.2,405.6 120.5,406.9 121.8,407.8 123.0,407.2 124.2,409.4 125.5,410.6 126.8,411.2 128.0,410.6 129.2,410.0 130.5,409.4 131.8,412.5 133.0,415.6 134.2,417.8 135.5,416.9 136.8,415.0 138.0,412.2 139.2,407.5 140.5,402.2 141.8,401.9 143.0,400.0 144.2,397.5 145.5,398.8 146.8,401.2 148.0,404.4 149.2,408.8 150.5,412.0 151.8,411.9 153.0,411.9 154.2,411.2 155.5,410.0 156.8,406.2 158.0,412.5 159.2,411.9 160.5,411.0 161.8,404.4 163.0,401.2 164.2,402.5 165.5,406.2 166.8,410.6 168.0,418.8 169.2,417.5 170.5,416.2 171.8,415.6 173.0,416.9 174.2,415.0 175.5,413.8 176.8,413.8 178.5,414.4 179.8,415.0 181.0,415.6 182.2,415.6 183.5,413.8 184.8,412.5 186.0,408.8 187.2,404.4 188.5,401.9 189.8,400.6 191.0,398.8 192.2,396.2 193.5,395.6 194.8,400.0 196.0,399.4 197.2,399.4 198.5,400.6 199.8,403.1 201.0,405.6 202.2,406.9 203.5,405.0 204.8,405.6 206.0,407.5 207.2,408.8 208.5,409.4 209.8,409.7 211.0,410.6 212.2,411.2 213.5,411.9 214.8,411.6 216.0,411.0 217.2,408.1 218.5,406.9 219.8,412.5 221.0,418.1 222.2,419.4 223.5,421.2 224.8,423.8 226.0,425.6 227.2,421.2 228.5,416.2 229.8,413.8 231.0,416.2 232.2,418.8 233.5,418.8 235.2,420.6 236.5,422.2 237.8,420.6 239.0,416.2 240.2,415.0 241.5,407.5 242.8,400.6 244.0,401.9 245.2,405.0 246.5,408.8 247.8,412.2 249.0,411.9 250.2,411.9 251.5,413.4 252.8,417.5 254.0,421.2 255.2,421.9 256.5,422.5 257.8,425.0 259.0,427.0 260.2,426.2 261.5,427.5 262.8,428.8 264.0,430.0 265.2,431.0 266.5,430.0 267.8,422.5 269.0,415.6 270.2,411.2 271.5,410.6 272.8,410.6 274.0,411.2 275.2,409.7 276.5,411.2 277.8,417.5 279.0,420.6 280.2,417.5 281.5,414.4 282.8,414.4 284.0,416.9 285.2,419.4 286.5,420.6 287.8,423.1 289.0,428.1 290.2,429.4 291.5,428.1 293.2,421.8 294.5,423.0 295.8,424.2 297.0,426.8 298.2,428.0 299.5,423.6 300.8,417.4 302.0,414.2 303.2,412.4 304.5,411.1 305.8,409.9 307.0,405.5 308.2,408.0 309.5,411.1 310.8,411.8 312.0,412.4 313.2,415.5 314.5,413.6 315.8,414.2 317.0,414.2 318.2,412.4 319.5,411.1 320.8,406.8 322.0,406.8 323.2,404.2 324.5,404.9 325.8,401.8 327.0,395.5 328.2,390.1 329.5,392.0 330.8,392.6 332.0,392.9 333.2,393.2 334.5,392.6 335.8,395.1 337.0,394.2 338.2,391.8 339.5,389.0 340.8,388.6 342.0,390.5 343.2,395.5 344.5,397.8 345.8,399.2 347.0,399.6 348.2,398.0 349.5,398.0 350.8,402.0 352.5,404.4 353.8,409.4 355.0,412.5 356.2,413.8 357.5,415.6 358.8,418.1 360.4,419.9 362.5,419.6 365.1,422.4 367.2,418.5 369.3,419.6 371.9,416.9 373.8,413.1 375.0,412.5 376.6,417.5 378.6,423.2 380.7,428.4 382.3,434.4 383.9,433.6 385.9,429.2 388.0,420.6 390.6,418.5 392.7,416.9 394.8,413.9 396.2,406.9 397.5,404.4 398.8,406.9 400.0,409.4 401.2,410.6 402.5,414.4 403.8,413.8 405.0,408.1 406.2,406.2 407.5,410.6 408.8,416.0 409.9,418.1 411.8,416.2 413.0,415.0 414.2,418.8 416.1,419.4 418.0,418.1 419.9,414.4 421.8,413.8 423.6,414.1 425.5,415.0 427.4,417.2 429.2,421.2 430.5,423.8 431.8,430.0 433.0,428.8 434.9,425.6 436.8,424.4 438.6,429.4 440.5,432.2 442.4,432.2 444.2,434.4 446.1,433.8 448.0,430.6 449.9,423.8 451.8,420.6 453.6,415.0 455.5,413.8 457.4,417.5 459.2,419.4 461.1,418.1 463.0,417.5 464.9,415.0 466.8,413.1 468.6,412.5 469.9,408.8 471.1,406.9 472.4,407.2 473.6,409.4 475.5,413.1 476.8,419.4 477.0,423.0"/>
<text x="7.6" y="15.5" font-size="11.7" fill="#000" text-anchor="start" xml:space="preserve" textLength="48.5" lengthAdjust="spacingAndGlyphs">GBPUSD,</text>
<text x="60.2" y="15.5" font-size="11.7" fill="#000" text-anchor="start" xml:space="preserve" textLength="19.5" lengthAdjust="spacingAndGlyphs">H4:</text>
<text x="87.6" y="15.5" font-size="11.7" fill="#000" text-anchor="start" xml:space="preserve" textLength="172.5" lengthAdjust="spacingAndGlyphs">Great Britain Pound vs US Dollar</text>
<text x="576" y="23" font-size="12.8" fill="#000" text-anchor="start" xml:space="preserve">1.41770</text>
<text x="576" y="55" font-size="12.8" fill="#000" text-anchor="start" xml:space="preserve">1.40370</text>
<text x="576" y="87" font-size="12.8" fill="#000" text-anchor="start" xml:space="preserve">1.38970</text>
<text x="576" y="119" font-size="12.8" fill="#000" text-anchor="start" xml:space="preserve">1.37570</text>
<text x="576" y="151" font-size="12.8" fill="#000" text-anchor="start" xml:space="preserve">1.36170</text>
<text x="576" y="183" font-size="12.8" fill="#000" text-anchor="start" xml:space="preserve">1.34770</text>
<text x="576" y="215" font-size="12.8" fill="#000" text-anchor="start" xml:space="preserve">1.33370</text>
<text x="576" y="247" font-size="12.8" fill="#000" text-anchor="start" xml:space="preserve">1.31970</text>
<text x="576" y="280" font-size="12.8" fill="#000" text-anchor="start" xml:space="preserve">1.30570</text>
<text x="576" y="312" font-size="12.8" fill="#000" text-anchor="start" xml:space="preserve">1.29170</text>
<text x="576" y="344" font-size="12.8" fill="#000" text-anchor="start" xml:space="preserve">1.27770</text>
<rect x="573" y="40" width="54" height="14" fill="#0000ff" shape-rendering="crispEdges"/>
<text x="577" y="51.5" font-size="12.8" fill="#fff">1.40500</text>
<rect x="573" y="169" width="54" height="14" fill="#c0c0c0" shape-rendering="crispEdges"/>
<text x="577" y="180.5" font-size="12.8" fill="#fff">1.34898</text>
<rect x="573" y="203" width="54" height="14" fill="#ff0000" shape-rendering="crispEdges"/>
<text x="577" y="214.5" font-size="12.8" fill="#fff">1.33385</text>
<rect x="573" y="242" width="54" height="14" fill="#0000ff" shape-rendering="crispEdges"/>
<text x="577" y="253.5" font-size="12.8" fill="#fff">1.31700</text>
<rect x="573" y="281" width="54" height="14" fill="#0000ff" shape-rendering="crispEdges"/>
<text x="577" y="292.5" font-size="12.8" fill="#fff">1.30000</text>
<text x="570" y="86" font-size="12.8" fill="#ff0000" text-anchor="end" xml:space="preserve" textLength="19.8" lengthAdjust="spacingAndGlyphs">0.0</text>
<text x="570" y="132" font-size="12.8" fill="#ff0000" text-anchor="end" xml:space="preserve" textLength="26.9" lengthAdjust="spacingAndGlyphs">23.6</text>
<text x="570" y="161" font-size="12.8" fill="#ff0000" text-anchor="end" xml:space="preserve" textLength="26.9" lengthAdjust="spacingAndGlyphs">38.2</text>
<text x="570" y="184" font-size="12.8" fill="#ff0000" text-anchor="end" xml:space="preserve" textLength="26.9" lengthAdjust="spacingAndGlyphs">50.0</text>
<text x="570" y="207" font-size="12.8" fill="#ff0000" text-anchor="end" xml:space="preserve" textLength="26.9" lengthAdjust="spacingAndGlyphs">61.8</text>
<text x="570" y="282" font-size="12.8" fill="#ff0000" text-anchor="end" xml:space="preserve" textLength="33.2" lengthAdjust="spacingAndGlyphs">100.0</text>
<text x="576" y="384.5" font-size="12.8" fill="#000" text-anchor="start" xml:space="preserve">0.019693</text>
<text x="576" y="402.5" font-size="12.8" fill="#000" text-anchor="start" xml:space="preserve">70.00</text>
<text x="576" y="435.5" font-size="12.8" fill="#000" text-anchor="start" xml:space="preserve">30.00</text>
<text x="576" y="453.5" font-size="12.8" fill="#000" text-anchor="start" xml:space="preserve">-0.012011</text>
<text x="5.5" y="388.5" font-size="12.6" fill="#000" text-anchor="start" xml:space="preserve" textLength="77.5" lengthAdjust="spacingAndGlyphs">MACD(5,34,5)</text>
<text x="87.3" y="388.5" font-size="12.6" fill="#000" text-anchor="start" xml:space="preserve" textLength="57.8" lengthAdjust="spacingAndGlyphs">-0.001225</text>
<text x="148.2" y="388.5" font-size="12.6" fill="#000" text-anchor="start" xml:space="preserve" textLength="54" lengthAdjust="spacingAndGlyphs">0.000879</text>
<text x="205.2" y="388.5" font-size="12.6" fill="#000" text-anchor="start" xml:space="preserve" textLength="41.8" lengthAdjust="spacingAndGlyphs">RSI(14)</text>
<text x="250.8" y="388.5" font-size="12.6" fill="#000" text-anchor="start" xml:space="preserve" textLength="33.3" lengthAdjust="spacingAndGlyphs">44.38</text>
<text x="2.5" y="471.5" font-size="12.6" fill="#000" text-anchor="start" xml:space="preserve">10 Nov 2025</text>
<text x="129.5" y="471.5" font-size="12.6" fill="#000" text-anchor="start" xml:space="preserve">9 Dec 04:00</text>
<text x="257.5" y="471.5" font-size="12.6" fill="#000" text-anchor="start" xml:space="preserve">8 Jan 12:00</text>
<text x="385.5" y="471.5" font-size="12.6" fill="#000" text-anchor="start" xml:space="preserve">6 Feb 04:00</text>
<text x="21.5" y="233.5" font-size="17" fill="#7a7a7a" text-anchor="middle" xml:space="preserve">i</text>
<text x="44" y="301" font-size="17" fill="#7a7a7a" text-anchor="middle" xml:space="preserve">ii</text>
<text x="242.2" y="152.5" font-size="17" fill="#7a7a7a" text-anchor="middle" xml:space="preserve" letter-spacing="0.5">iii</text>
<text x="298" y="231" font-size="17" fill="#7a7a7a" text-anchor="middle" xml:space="preserve">iv</text>
<text x="340" y="86.5" font-size="17" fill="#7a7a7a" text-anchor="middle" xml:space="preserve">v</text>
<text x="384" y="190" font-size="17" fill="#7a7a7a" text-anchor="middle" xml:space="preserve">a</text>
<text x="404.2" y="115.5" font-size="17.8" fill="#7a7a7a" text-anchor="middle" xml:space="preserve">b</text>
<text x="482" y="217" font-size="17" fill="#7a7a7a" text-anchor="middle" xml:space="preserve">c</text>
<text x="342.4" y="76" font-size="17.5" fill="#ff0000" text-anchor="middle" xml:space="preserve" letter-spacing="0.7">(i)</text>
<text x="481.9" y="232" font-size="17.5" fill="#ff0000" text-anchor="middle" xml:space="preserve" letter-spacing="0.7">(ii)</text>
</svg></body></html>
